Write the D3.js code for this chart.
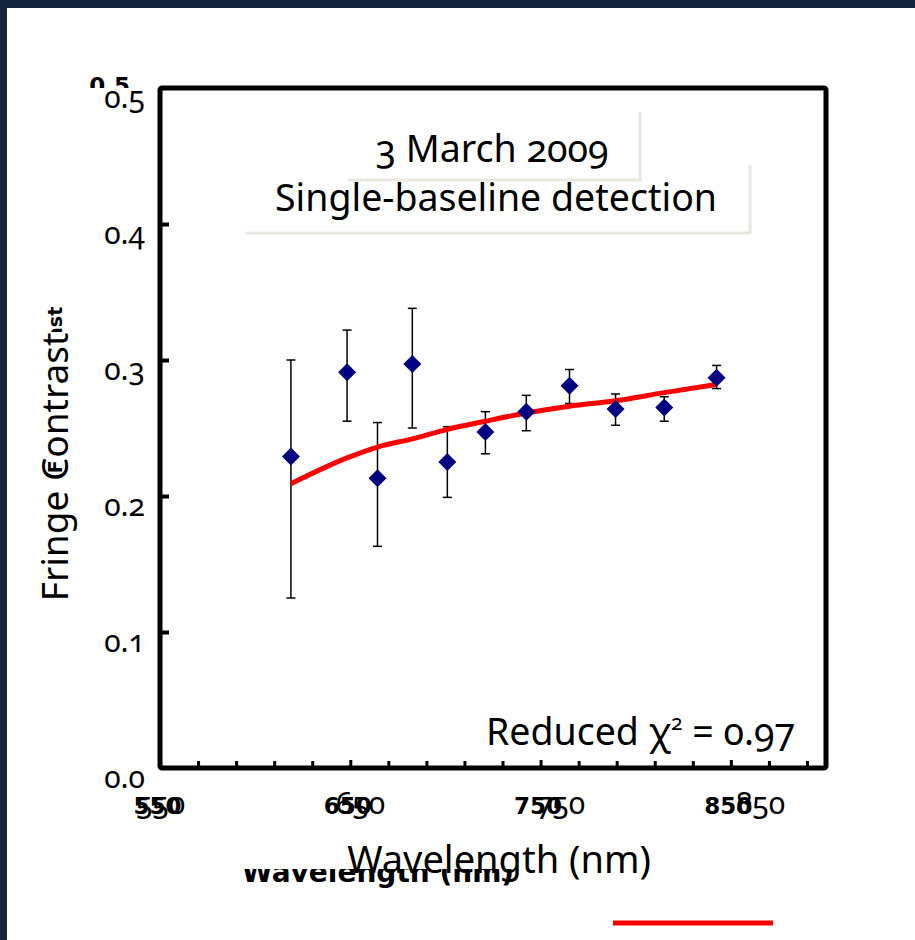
<!doctype html>
<html lang="en">
<head>
  <meta charset="utf-8">
  <style>
    body { margin: 0; background: #fff; }
    .reg { font-family: "Noto Sans", sans-serif; font-feature-settings: "onum" 1; font-variant-numeric: oldstyle-nums; fill: #000; }
    .old { font-family: "DejaVu Sans", sans-serif; font-weight: bold; fill: #000; }
  </style>
  <script src="https://d3js.org/d3.v7.min.js"></script>
</head>
<body>
  <script>
    // spectral channels (nm) and measured fringe contrast
    const wavelengths = [618.8, 648.3, 664.3, 682.6, 701.0, 721.0, 742.5, 765.2, 789.4, 815.0, 842.5];
    const contrast    = [0.229, 0.291, 0.213, 0.297, 0.225, 0.247, 0.262, 0.281, 0.264, 0.265, 0.287];
    const errLow      = [0.125, 0.255, 0.163, 0.250, 0.199, 0.231, 0.248, 0.268, 0.252, 0.255, 0.279];
    const errHigh     = [0.300, 0.322, 0.254, 0.338, 0.251, 0.262, 0.274, 0.293, 0.275, 0.273, 0.296];
    // model curve evaluated at the same channels
    const model       = [0.209, 0.228, 0.236, 0.242, 0.249, 0.255, 0.261, 0.266, 0.270, 0.276, 0.282];

    const xTickLabels = [550, 650, 750, 850];
    const xMinorTicks = [570, 590, 610, 630, 650, 670, 690, 710, 730, 750, 770, 790, 810, 830, 850, 870, 890];
    const xMajorTicks = [650, 750, 850];
    const yTickLabels = [0.0, 0.1, 0.2, 0.3, 0.4, 0.5];
    const yInnerTicks = [0.1, 0.2, 0.3, 0.4];

    const W = 915, H = 940;
    const plot = { left: 160, top: 88, right: 826, bottom: 768 };

    const svg = d3.select("body").append("svg")
      .attr("width", W)
      .attr("height", H);

    // slide border
    svg.append("rect").attr("x", 0).attr("y", 0).attr("width", W).attr("height", 8).attr("fill", "#13253f");
    svg.append("rect").attr("x", 0).attr("y", 0).attr("width", 7).attr("height", H).attr("fill", "#13253f");

    const x = d3.scaleLinear().domain([550, 900]).range([plot.left, plot.right]);
    const xNew = d3.scaleLinear().domain([550, 850]).range([160, 760]); // pasted-over labels
    const y = d3.scaleLinear().domain([0, 0.5]).range([plot.bottom, plot.top]);

    // old (bold) labels underneath
    const oldX = svg.append("g")
      .attr("transform", `translate(0,814)`)
      .call(d3.axisBottom(x).tickValues(xTickLabels).tickSize(0).tickFormat(d3.format("d")));
    oldX.select(".domain").remove();
    oldX.selectAll("text").attr("class", "old").style("font-size", "23px").attr("y", 0).attr("dy", "0")
      .attr("transform", "translate(-3,0)");

    const oldY = svg.append("g")
      .attr("transform", `translate(130,0)`)
      .call(d3.axisLeft(y).tickValues(yTickLabels).tickSize(0).tickFormat(d3.format(".1f")));
    oldY.select(".domain").remove();
    oldY.selectAll("text").attr("class", "old").style("font-size", "23px").attr("x", 0).attr("dy", "5");

    svg.append("text").attr("class", "old")
      .attr("transform", `translate(62,390) rotate(-90)`)
      .attr("text-anchor", "middle")
      .style("font-size", "19px")
      .text("Fringe Contrast");

    svg.append("text").attr("class", "old")
      .attr("x", 378).attr("y", 882)
      .attr("text-anchor", "middle")
      .style("font-size", "28px")
      .text("Wavelength (nm)");

    // white patches from the new labels
    svg.append("rect").attr("x", 80).attr("y", 88).attr("width", 76).attr("height", 702).attr("fill", "#fff");
    svg.append("rect").attr("x", 230).attr("y", 832).attr("width", 450).attr("height", 37).attr("fill", "#fff");
    svg.append("rect").attr("x", 30).attr("y", 332).attr("width", 50).attr("height", 130).attr("fill", "#fff");

    // plot frame
    svg.append("rect")
      .attr("x", plot.left).attr("y", plot.top)
      .attr("width", plot.right - plot.left).attr("height", plot.bottom - plot.top)
      .attr("rx", 2)
      .attr("fill", "none").attr("stroke", "#000").attr("stroke-width", 5);

    // inner ticks
    const bTicks = svg.append("g")
      .attr("transform", `translate(0,${plot.bottom})`)
      .call(d3.axisBottom(x).tickValues(xMinorTicks).tickSize(0).tickFormat(""));
    bTicks.select(".domain").remove();
    bTicks.selectAll(".tick line")
      .attr("y2", d => xMajorTicks.includes(d) ? -8 : -7)
      .attr("stroke", "#000").attr("stroke-width", 3);

    const lTicks = svg.append("g")
      .attr("transform", `translate(${plot.left},0)`)
      .call(d3.axisLeft(y).tickValues(yInnerTicks).tickSize(0).tickFormat(""));
    lTicks.select(".domain").remove();
    lTicks.selectAll(".tick line").attr("x2", 9).attr("stroke", "#000").attr("stroke-width", 4);

    // new (regular) labels
    const newX = svg.append("g")
      .attr("transform", `translate(0,814)`)
      .call(d3.axisBottom(xNew).tickValues(xTickLabels).tickSize(0).tickFormat(d3.format("d")));
    newX.select(".domain").remove();
    newX.selectAll("text").attr("class", "reg").style("font-size", "30px").attr("y", 0).attr("dy", "0");

    const newY = svg.append("g")
      .attr("transform", `translate(145,0)`)
      .call(d3.axisLeft(y).tickValues(yTickLabels).tickSize(0).tickFormat(d3.format(".1f")));
    newY.select(".domain").remove();
    newY.selectAll("text").attr("class", "reg").style("font-size", "30px").attr("x", 0).attr("dy", "19");

    svg.append("text").attr("class", "reg")
      .attr("transform", `translate(68,467) rotate(-90)`)
      .attr("text-anchor", "middle")
      .style("font-size", "37px")
      .text("Fringe Contrast");

    svg.append("text").attr("class", "reg")
      .attr("x", 499).attr("y", 873)
      .attr("text-anchor", "middle")
      .style("font-size", "38px")
      .text("Wavelength (nm)");

    // title boxes with shadow
    const shadow = "#e9e7df";
    svg.append("polyline").attr("points", "348,180 640,180 640,112")
      .attr("fill", "none").attr("stroke", shadow).attr("stroke-width", 3);
    svg.append("polyline").attr("points", "246,233 750,233 750,165")
      .attr("fill", "none").attr("stroke", shadow).attr("stroke-width", 3);

    svg.append("text").attr("class", "reg")
      .attr("x", 492).attr("y", 162)
      .attr("text-anchor", "middle")
      .style("font-size", "37.5px")
      .text("3 March 2009");
    svg.append("text").attr("class", "reg")
      .attr("x", 496).attr("y", 211)
      .attr("text-anchor", "middle")
      .style("font-size", "37.5px")
      .text("Single-baseline detection");

    const chi = svg.append("text").attr("class", "reg")
      .attr("x", 795).attr("y", 745)
      .attr("text-anchor", "end")
      .style("font-size", "37.5px");
    chi.append("tspan").text("Reduced χ");
    chi.append("tspan").attr("dy", -15).style("font-size", "21px").text("2");
    chi.append("tspan").attr("dy", 15).text(" = 0.97");

    // data
    const pts = wavelengths.map((w, i) => ({ w, v: contrast[i], lo: errLow[i], hi: errHigh[i], m: model[i] }));

    const eb = svg.append("g").attr("stroke", "#000").attr("stroke-width", 1.5);
    pts.forEach(d => {
      eb.append("line").attr("x1", x(d.w)).attr("x2", x(d.w)).attr("y1", y(d.lo)).attr("y2", y(d.hi));
      eb.append("line").attr("x1", x(d.w) - 4.5).attr("x2", x(d.w) + 4.5).attr("y1", y(d.lo)).attr("y2", y(d.lo));
      eb.append("line").attr("x1", x(d.w) - 4.5).attr("x2", x(d.w) + 4.5).attr("y1", y(d.hi)).attr("y2", y(d.hi));
    });

    svg.append("path")
      .datum(pts)
      .attr("fill", "none")
      .attr("stroke", "#ff0000")
      .attr("stroke-width", 5)
      .attr("stroke-linejoin", "round")
      .attr("d", d3.line().curve(d3.curveMonotoneX).x(d => x(d.w)).y(d => y(d.m)));

    svg.append("g").selectAll("path")
      .data(pts)
      .join("path")
      .attr("transform", d => `translate(${x(d.w)},${y(d.v)})`)
      .attr("d", "M0,-9L9,0L0,9L-9,0Z")
      .attr("fill", "#000080");

    // stray legend line
    svg.append("line")
      .attr("x1", 613).attr("x2", 773).attr("y1", 923).attr("y2", 923)
      .attr("stroke", "#ff0000").attr("stroke-width", 5);
  </script>
</body>
</html>
